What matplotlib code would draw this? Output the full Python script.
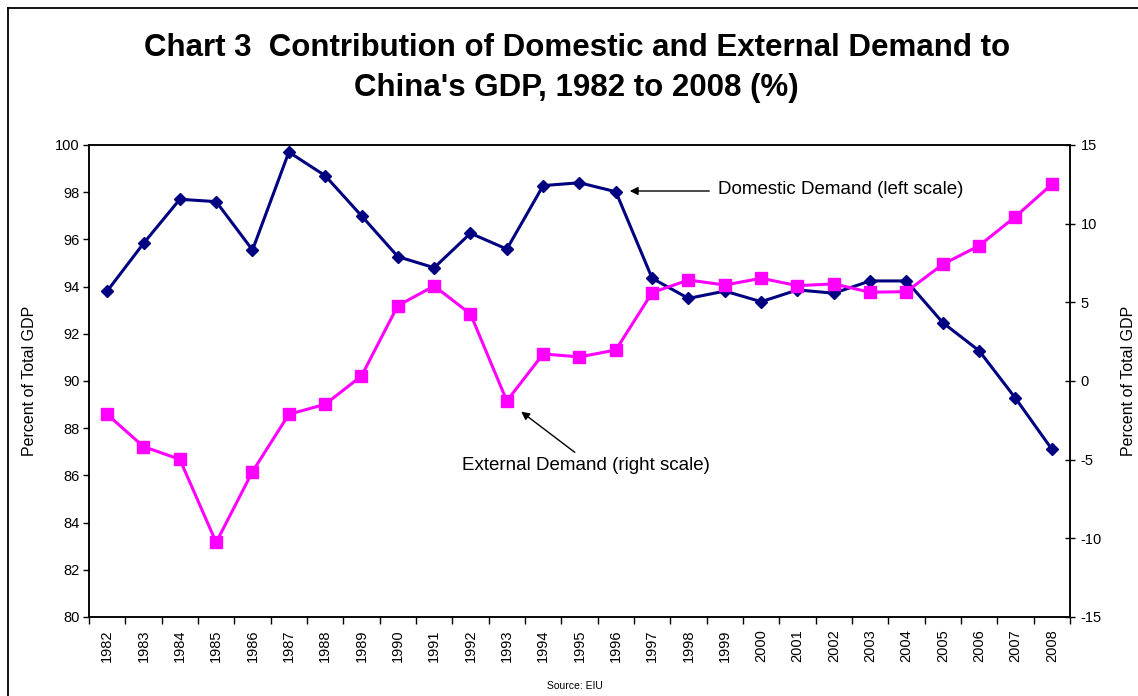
import matplotlib
matplotlib.use("Agg")
import matplotlib.pyplot as plt
from matplotlib.lines import Line2D

plt.rcParams['font.family'] = ['Liberation Sans', 'DejaVu Sans']

years = list(range(1982, 2009))
domestic = [93.81, 95.83, 97.70, 97.60, 95.55, 99.70, 98.70, 97.00, 95.27, 94.80,
            96.26, 95.59, 98.28, 98.40, 98.02, 94.35, 93.50, 93.81, 93.36, 93.86,
            93.72, 94.24, 94.24, 92.47, 91.28, 89.27, 87.11]
external = [-2.12, -4.17, -4.98, -10.26, -5.76, -2.12, -1.48, 0.32, 4.79, 6.04,
            4.26, -1.27, 1.72, 1.53, 1.97, 5.62, 6.42, 6.10, 6.53, 6.06,
            6.17, 5.64, 5.68, 7.42, 8.60, 10.45, 12.50]
left_ticks = list(range(80, 101, 2))
right_ticks = list(range(-15, 16, 5))

W, H = 1138, 696
fig = plt.figure(figsize=(W / 100, H / 100), dpi=100)

def fp(x, y):
    return (x / W, 1 - y / H)

ax = fig.add_axes([89 / W, 1 - 617 / H, (1070 - 89) / W, (617 - 145) / H])
ax2 = ax.twinx()

x = list(range(len(years)))
ax.plot(x, domestic, color='#000080', lw=2.2, marker='D', ms=5.8,
        mfc='#000080', mec='#000080', zorder=3)
ax2.plot(x, external, color='#FF00FF', lw=2.2, marker='s', ms=8.5,
         mfc='#FF00FF', mec='#FF00FF', zorder=3)

ax.set_xlim(-0.5, len(years) - 0.5)
ax.set_ylim(80, 100)
ax.set_yticks(left_ticks)
ax.set_yticklabels([str(t) for t in left_ticks], fontsize=10.5)
ax2.set_ylim(-15, 15)
ax2.set_yticks(right_ticks)
ax2.set_yticklabels([str(t) for t in right_ticks], fontsize=10.5)

ax.set_xticks(x)
ax.set_xticklabels([str(y) for y in years], rotation=90, fontsize=10.5)
ax.tick_params(axis='x', which='major', length=0, pad=9)
ax.set_xticks([i - 0.5 for i in range(len(years) + 1)], minor=True)
ax.tick_params(axis='x', which='minor', length=5, width=1, direction='out')
ax.tick_params(axis='y', length=4, width=1, direction='out', pad=3)
ax2.tick_params(axis='y', length=7, width=1, direction='inout', pad=4)

for a in (ax, ax2):
    for s in a.spines.values():
        s.set_linewidth(1.1)
        s.set_color('black')

ax.set_ylabel('Percent of Total GDP', fontsize=11.5)
ax2.set_ylabel('Percent of Total GDP', fontsize=11.5)
ax.yaxis.set_label_coords(-0.053, 0.5)
ax2.yaxis.set_label_coords(1.052, 0.5)

fig.text(*fp(577, 48), 'Chart 3  Contribution of Domestic and External Demand to',
         ha='center', va='center', fontsize=22.5, fontweight='bold')
fig.text(*fp(576, 88), "China's GDP, 1982 to 2008 (%)",
         ha='center', va='center', fontsize=22.5, fontweight='bold')

fig.text(*fp(718, 190), 'Domestic Demand (left scale)', ha='left', va='center', fontsize=13.5)
ax.annotate('', xy=fp(627, 191), xytext=fp(712, 191),
            xycoords='figure fraction', textcoords='figure fraction',
            arrowprops=dict(arrowstyle='-|>', color='black', lw=1, mutation_scale=12))
fig.text(*fp(586, 466), 'External Demand (right scale)', ha='center', va='center', fontsize=13.5)
ax.annotate('', xy=fp(519, 410), xytext=fp(577, 454),
            xycoords='figure fraction', textcoords='figure fraction',
            arrowprops=dict(arrowstyle='-|>', color='black', lw=1, mutation_scale=12))

fig.text(*fp(575, 686), 'Source: EIU', ha='center', va='center', fontsize=7.5)

fig.add_artist(Line2D([7.5 / W, 7.5 / W], [0, 1 - 7.5 / H], transform=fig.transFigure,
                      color='black', lw=1.3))
fig.add_artist(Line2D([7.5 / W, 1], [1 - 7.5 / H, 1 - 7.5 / H], transform=fig.transFigure,
                      color='black', lw=1.3))

fig.savefig('out.png', dpi=100)
